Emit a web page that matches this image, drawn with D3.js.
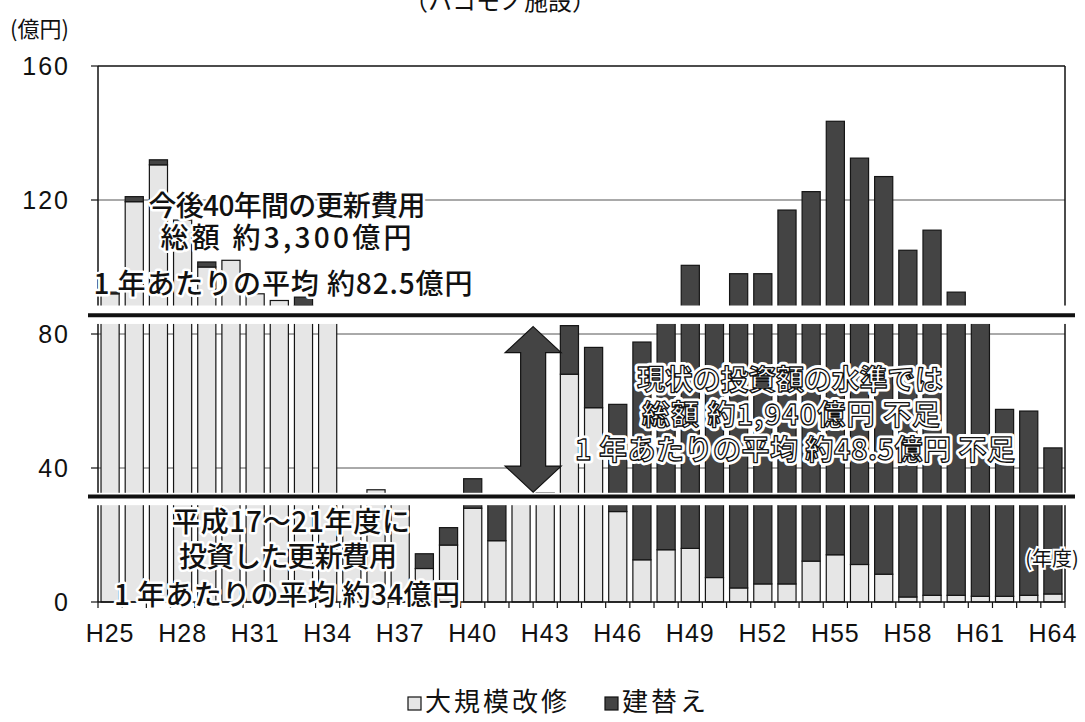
<!DOCTYPE html>
<html><head><meta charset="utf-8">
<script src="https://cdn.jsdelivr.net/npm/d3@7"></script>
<style>
html,body{margin:0;padding:0;background:#fff;}
svg{display:block;}
</style></head>
<body>
<svg id="chart" width="1085" height="722"></svg>
<script>
// ---- data ----
const years = ["H25","H26","H27","H28","H29","H30","H31","H32","H33","H34",
               "H35","H36","H37","H38","H39","H40","H41","H42","H43","H44",
               "H45","H46","H47","H48","H49","H50","H51","H52","H53","H54",
               "H55","H56","H57","H58","H59","H60","H61","H62","H63","H64"];
// 大規模改修 (light)
const kaishu = [92, 119.5, 130.5, 114, 100, 102, 92, 90, 88.5, 87,
                31, 33.5, 31, 10, 17, 28, 18.3, 32, 32.5, 68,
                58, 27, 12.6, 15.6, 16, 7.3, 4.2, 5.4, 5.4, 12.2,
                14.1, 11.2, 8.3, 1.5, 2, 2, 1.7, 1.7, 2, 2.4];
// 建替え (dark)
const tatekae = [0.5, 1.5, 1.5, 0, 1.5, 0, 0, 0, 2.5, 0,
                 0, 0, 0, 4.4, 5.2, 8.8, 13.7, 0, 0, 14.5,
                 18, 32, 65, 68.4, 84.5, 76.7, 93.8, 92.6, 111.6, 110.3,
                 129.4, 121.3, 118.7, 103.5, 109, 90.5, 82.3, 55.8, 55, 43.6];
const seriesNames = ["大規模改修", "建替え"];
const yTicks = [0, 40, 80, 120, 160];
const xTickLabels = ["H25","H28","H31","H34","H37","H40","H43","H46","H49","H52","H55","H58","H61","H64"];
// levels of the two thick reference lines as drawn (future avg / past invested avg)
const refLevels = [85.6, 31.5];
// value ranges hidden by the white breaks around those lines
const breakBands = [[83, 88.5], [28.9, 32.6]];
const noteFuture = ["今後40年間の更新費用", "総額 約3,300億円", "1 年あたりの平均 約82.5億円"];
const notePast = ["平成17～21年度に", "投資した更新費用", "1 年あたりの平均 約34億円"];
const noteGap = ["現状の投資額の水準では", "総額 約1,940億円 不足", "1 年あたりの平均 約48.5億円 不足"];

// ---- chart ----
const svg = d3.select("#chart");
const CJK = "'Noto Sans CJK JP','Noto Sans',sans-serif";
const NUM = "'Liberation Sans',Arial,sans-serif";
const LIGHT = "#e6e6e6", DARK = "#444444";

const x = d3.scaleBand().domain(years).range([98, 1065]).paddingInner(0.25).paddingOuter(0.125);
const y = d3.scaleLinear().domain([0, 160]).range([602, 66]);
const half = x.step() * x.paddingInner() / 2;

// partial title (cut off at the top, as in the source)
svg.append("text").attr("x", 500).attr("y", 10).attr("text-anchor", "middle")
  .attr("font-family", CJK).attr("font-size", 24).attr("fill", "#111").text("（ハコモノ施設）");

svg.append("text").attr("x", 10).attr("y", 37).attr("font-family", CJK)
  .attr("font-size", 22).attr("fill", "#111").text("(億円)");

// gridlines
svg.append("g").selectAll("line").data(yTicks.filter(d => d > 0 && d < 160)).join("line")
  .attr("x1", 98).attr("x2", 1065).attr("y1", d => y(d)).attr("y2", d => y(d))
  .attr("stroke", "#555").attr("stroke-width", 1);

// bars
const rows = years.map((yr, i) => ({year: yr, kaishu: kaishu[i], tatekae: tatekae[i]}));
const stack = d3.stack().keys(["kaishu", "tatekae"])(rows);
const colors = [LIGHT, DARK];
svg.append("g").selectAll("g").data(stack).join("g")
  .attr("fill", (d, i) => colors[i])
  .selectAll("rect").data(d => d.filter(s => s[1] - s[0] > 0)).join("rect")
  .attr("x", d => x(d.data.year)).attr("width", x.bandwidth())
  .attr("y", d => y(d[1])).attr("height", d => y(d[0]) - y(d[1]))
  .attr("stroke", "#151515").attr("stroke-width", 1.2);

// plot frame
svg.append("line").attr("x1", 98).attr("x2", 1065).attr("y1", y(160)).attr("y2", y(160))
  .attr("stroke", "#111").attr("stroke-width", 1.5);
svg.append("line").attr("x1", 1065).attr("x2", 1065).attr("y1", y(160)).attr("y2", y(0))
  .attr("stroke", "#111").attr("stroke-width", 1.5);
svg.append("line").attr("x1", 98).attr("x2", 98).attr("y1", y(160)).attr("y2", y(0))
  .attr("stroke", "#111").attr("stroke-width", 1.5);
svg.append("line").attr("x1", 98).attr("x2", 1065).attr("y1", y(0)).attr("y2", y(0))
  .attr("stroke", "#111").attr("stroke-width", 1.5);

// y ticks + labels
svg.append("g").selectAll("line").data(yTicks).join("line")
  .attr("x1", 91).attr("x2", 98).attr("y1", d => y(d)).attr("y2", d => y(d))
  .attr("stroke", "#111").attr("stroke-width", 1.2);
svg.append("g").selectAll("text").data(yTicks).join("text")
  .attr("x", 70).attr("y", d => y(d) + 9).attr("text-anchor", "end")
  .attr("font-family", NUM).attr("font-size", 25).attr("letter-spacing", 2)
  .attr("fill", "#111").text(d => d);

// x ticks at category boundaries
const bounds = years.map(d => x(d) - half).concat([x(years[years.length - 1]) + x.bandwidth() + half]);
svg.append("g").selectAll("line").data(bounds).join("line")
  .attr("x1", d => d).attr("x2", d => d).attr("y1", y(0)).attr("y2", y(0) + 6)
  .attr("stroke", "#111").attr("stroke-width", 1.2);
svg.append("g").selectAll("text").data(xTickLabels).join("text")
  .attr("x", d => x(d) + x.bandwidth() / 2).attr("y", 642).attr("text-anchor", "middle")
  .attr("font-family", NUM).attr("font-size", 25).attr("letter-spacing", 1)
  .attr("fill", "#111").text(d => d);

// white breaks + thick reference lines
svg.append("g").selectAll("rect").data(breakBands).join("rect")
  .attr("x", 86).attr("width", 992).attr("y", d => y(d[1])).attr("height", d => y(d[0]) - y(d[1]))
  .attr("fill", "#fff");
svg.append("g").selectAll("line").data(refLevels).join("line")
  .attr("x1", 88).attr("x2", 1075).attr("y1", d => y(d)).attr("y2", d => y(d))
  .attr("stroke", "#111").attr("stroke-width", 4);

// double arrow between the two levels
const ax = x("H43") - half;
const aTop = y(82.2), aBot = y(32.8), hh = 26, hw = 28, sw = 12.5;
const arrowPts = [[ax, aTop], [ax + hw, aTop + hh], [ax + sw, aTop + hh], [ax + sw, aBot - hh],
  [ax + hw, aBot - hh], [ax, aBot], [ax - hw, aBot - hh], [ax - sw, aBot - hh],
  [ax - sw, aTop + hh], [ax - hw, aTop + hh]];
svg.append("polygon").attr("points", arrowPts.map(p => p.join(",")).join(" "))
  .attr("fill", "#444").attr("stroke", "#111").attr("stroke-width", 1.2);

// annotations with halo
function haloText(lines, cxs, ys, widths, size, whiteFill) {
  const g = svg.append("g").attr("font-family", CJK).attr("font-size", size)
    .attr("text-anchor", "middle").attr("font-weight", whiteFill ? 700 : 500);
  const put = (cls) => g.selectAll("text." + cls).data(lines).join("text").attr("class", cls)
    .attr("x", (d, i) => cxs[i]).attr("y", (d, i) => ys[i])
    .attr("textLength", (d, i) => widths[i]).attr("lengthAdjust", "spacing").text(d => d);
  put("h").attr("fill", "#fff").attr("stroke", "#fff").attr("stroke-width", whiteFill ? 7 : 5)
    .attr("stroke-linejoin", "round");
  put("f").attr("fill", whiteFill ? "#fff" : "#111")
    .attr("stroke", whiteFill ? "#111" : "none").attr("stroke-width", 1.3)
    .attr("stroke-linejoin", "round");
}
haloText(noteFuture, [287, 286, 283], [216, 248, 294], [277, 251, 379], 28, false);
haloText(notePast, [291, 288, 287], [532, 567, 605], [238, 218, 346], 28, false);
haloText(noteGap, [790, 791, 795], [390, 425, 460], [306, 298, 440], 28, true);

// (年度)
const nd = svg.append("g").attr("font-family", CJK).attr("font-size", 20).attr("text-anchor", "middle");
nd.append("text").attr("x", 1052).attr("y", 566).text("(年度)").attr("fill", "#fff")
  .attr("stroke", "#fff").attr("stroke-width", 4);
nd.append("text").attr("x", 1052).attr("y", 566).text("(年度)").attr("fill", "#111");

// legend
const lg = svg.append("g").attr("font-family", CJK).attr("font-size", 26).attr("fill", "#111");
const legX = [408, 605];
seriesNames.forEach((name, i) => {
  lg.append("rect").attr("x", legX[i]).attr("y", 697).attr("width", 13).attr("height", 13)
    .attr("fill", colors[i]).attr("stroke", "#111").attr("stroke-width", 1.2);
  lg.append("text").attr("x", legX[i] + 17).attr("y", 711).attr("letter-spacing", 3).text(name);
});
</script>
</body></html>
